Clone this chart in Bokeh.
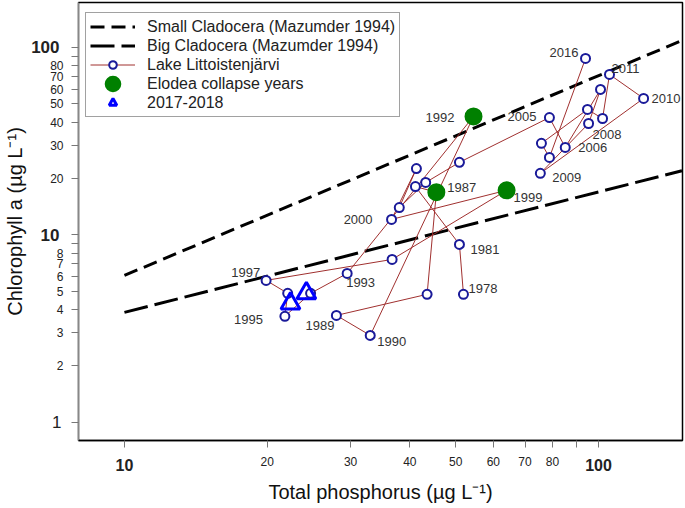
from bokeh.plotting import figure
from bokeh.models import FixedTicker, Legend, LegendItem, Range1d, ColumnDataSource, LogAxis
from bokeh.embed import file_html
from bokeh.resources import INLINE
from bokeh.core.properties import value

# ---------------- data ----------------
years = [1978, 1981, 1982, 1987, 1988, 1989, 1990, 1992, 1993, 1994, 1995, 1996,
         1997, 1998, 1999, 2000, 2001, 2002, 2003, 2004, 2005, 2006, 2007, 2008,
         2009, 2010, 2011, 2012, 2013, 2014, 2015, 2016]
tp = [51.9, 50.9, 41.1, 45.5, 43.5, 28.0, 33.0, 54.5, 29.5, 24.7, 21.8, 22.1,
      19.9, 36.7, 64.0, 36.6, 41.3, 38.0, 43.2, 50.9, 78.8, 85.1, 101.0, 95.3,
      75.4, 124.5, 105.5, 102.0, 94.8, 75.8, 78.8, 93.9]
chl = [4.82, 8.9, 18.1, 16.9, 4.82, 3.72, 2.91, 42.9, 6.23, 4.88, 3.68, 4.88,
       5.72, 7.4, 17.3, 12.1, 22.6, 14.0, 19.05, 24.4, 42.3, 29.3, 59.7, 39.3,
       21.3, 53.5, 71.8, 41.8, 46.7, 30.8, 25.9, 87.4]
elodea_years = [1987, 1992, 1999]
recent_years = [2017, 2018]
recent_tp = [22.4, 24.2]
recent_chl = [4.31, 4.88]

ref_tp = [10, 150]
small_cladocera = [6.08, 109.0]
big_cladocera = [3.86, 22.0]

label_years_left = [1978, 1981, 1987, 1990, 1993, 1999, 2006, 2008, 2009, 2010, 2011]
label_years_right = [1989, 1992, 1995, 1997, 2000, 2005, 2016]

x_ticks = [10, 20, 30, 40, 50, 60, 70, 80, 90, 100]
x_tick_labels = ["", "20", "30", "40", "50", "60", "70", "80", "", ""]
x_big_ticks = [10, 100]
y_ticks = [1, 2, 3, 4, 5, 6, 7, 8, 9, 10, 20, 30, 40, 50, 60, 70, 80, 90, 100]
y_tick_labels = ["", "2", "3", "4", "5", "6", "7", "8", "", "",
                 "20", "30", "40", "50", "60", "70", "80", "", ""]
y_big_ticks = [10, 100]
y_plain_ticks = [1]

# label offsets (screen px): style only
off_left = {1978: (5, -6), 1981: (11, 5), 1987: (11, -5), 1990: (7, 6), 1993: (-1, 9),
            1999: (7, 7), 2006: (13, 0), 2008: (4, 11), 2009: (12, 4), 2010: (8, 0),
            2011: (2, -6)}
off_right = {1989: (-2, 10), 1992: (-19, 1), 1995: (-22, 3), 1997: (-6, -8),
             2000: (-19, 0), 2005: (-13, -1), 2016: (-7, -6)}

FONT = "Liberation Sans"
X0, X1 = 8.0, 150.4
Y0, Y1 = 0.8, 173.8

p = figure(width=685, height=508, x_axis_type="log", y_axis_type="log",
           x_range=Range1d(X0, X1), y_range=Range1d(Y0, Y1),
           output_backend="svg", toolbar_location=None,
           min_border_left=78, min_border_right=3, min_border_top=2, min_border_bottom=68)
p.xgrid.visible = False
p.ygrid.visible = False
p.outline_line_color = "black"
p.outline_line_width = 1.5
p.background_fill_color = "white"
p.border_fill_color = "white"

# reference lines
r_small = p.line(ref_tp, small_cladocera, line_color="black", line_width=3, line_dash="14 7")
r_big = p.line(ref_tp, big_cladocera, line_color="black", line_width=3, line_dash="24 7")

src = ColumnDataSource(dict(x=tp, y=chl, year=years))
r_lake_line = p.line("x", "y", source=src, line_color="#A0302F", line_width=1)
r_lake_pts = p.scatter("x", "y", source=src, marker="circle", size=9, line_color="#1a1a99",
                       line_width=2, fill_color="white")

el_x = [tp[years.index(y)] for y in elodea_years]
el_y = [chl[years.index(y)] for y in elodea_years]
r_el = p.scatter(el_x, el_y, marker="circle", size=9, line_width=9, line_color="#008000",
                 fill_color="#008000")

r_rec = p.scatter(recent_tp, recent_chl, marker="triangle", size=19, line_color="#0000FF",
                  line_width=3, fill_color=None)

def lab_src(ys, offs):
    return ColumnDataSource(dict(
        x=[tp[years.index(y)] for y in ys],
        y=[chl[years.index(y)] for y in ys],
        t=[str(y) for y in ys],
        dx=[offs[y][0] for y in ys],
        dy=[offs[y][1] for y in ys]))

for ys, offs, al in ((label_years_left, off_left, "left"), (label_years_right, off_right, "right")):
    p.text("x", "y", text="t", source=lab_src(ys, offs), x_offset="dx", y_offset="dy",
           text_align=al, text_baseline="middle", text_font=value(FONT),
           text_font_size="13px", text_color="#333333")

# axes
def style_axis(ax, ticks, labs, size="12px", weight="normal"):
    ax.ticker = FixedTicker(ticks=ticks)
    ax.major_label_overrides = {t: l for t, l in zip(ticks, labs)}
    ax.minor_tick_line_color = None
    ax.major_tick_in = 0
    ax.major_tick_out = 7
    ax.major_tick_line_color = "#777777"
    ax.major_label_text_font = FONT
    ax.major_label_text_font_size = size
    ax.major_label_text_font_style = weight
    ax.major_label_text_color = "#222222"
    ax.axis_label_text_font = FONT
    ax.axis_label_text_font_style = "normal"
    ax.axis_label_text_font_size = "20px"
    ax.axis_label_text_color = "#111111"

# inner axes: ticks + small labels
style_axis(p.xaxis[0], x_ticks, x_tick_labels)
style_axis(p.yaxis[0], y_ticks, y_tick_labels)
p.xaxis[0].axis_line_color = "black"
p.xaxis[0].axis_line_width = 1.5
p.yaxis[0].axis_line_color = "#888888"
p.xaxis[0].major_label_standoff = 9
p.yaxis[0].major_label_standoff = 8

# outer axes: big decade labels pulled back over the inner labels, plus axis titles
bx = LogAxis()
style_axis(bx, x_big_ticks, [str(t) for t in x_big_ticks], "16px", "bold")
bx.axis_line_color = None
bx.major_tick_out = 0
bx.major_tick_line_color = None
bx.major_label_standoff = -10
bx.axis_label = "Total phosphorus (µg L⁻¹)"
bx.axis_label_standoff = 7
p.add_layout(bx, "below")

by = LogAxis()
style_axis(by, y_big_ticks, [str(t) for t in y_big_ticks], "17px", "bold")
by.axis_line_color = None
by.major_tick_out = 0
by.major_tick_line_color = None
by.major_label_standoff = -12
by.axis_label = "Chlorophyll a (µg L⁻¹)"
by.axis_label_standoff = 2
p.add_layout(by, "left")

# third axis, further out, pulled all the way back for the plain "1"
by1 = LogAxis()
style_axis(by1, y_plain_ticks, [str(t) for t in y_plain_ticks], "17px", "normal")
by1.axis_line_color = None
by1.major_tick_out = 0
by1.major_tick_line_color = None
by1.major_label_standoff = -60
p.add_layout(by1, "left")

legend = Legend(items=[
    LegendItem(label="Small Cladocera (Mazumder 1994)", renderers=[r_small]),
    LegendItem(label="Big Cladocera (Mazumder 1994)", renderers=[r_big]),
    LegendItem(label="Lake Littoistenjärvi", renderers=[r_lake_line, r_lake_pts]),
    LegendItem(label="Elodea collapse years", renderers=[r_el]),
    LegendItem(label="2017-2018", renderers=[r_rec]),
], location=(7, 323))
legend.label_text_font = FONT
legend.label_text_font_size = "16px"
legend.label_text_color = "#222222"
legend.label_height = 19
legend.glyph_height = 19
legend.glyph_width = 45
legend.label_standoff = 12
legend.spacing = 0
legend.padding = 4
legend.margin = 0
legend.border_line_color = "#444444"
legend.border_line_width = 1
legend.background_fill_color = "white"
p.add_layout(legend)

open("out.html", "w").write(file_html(p, INLINE))
